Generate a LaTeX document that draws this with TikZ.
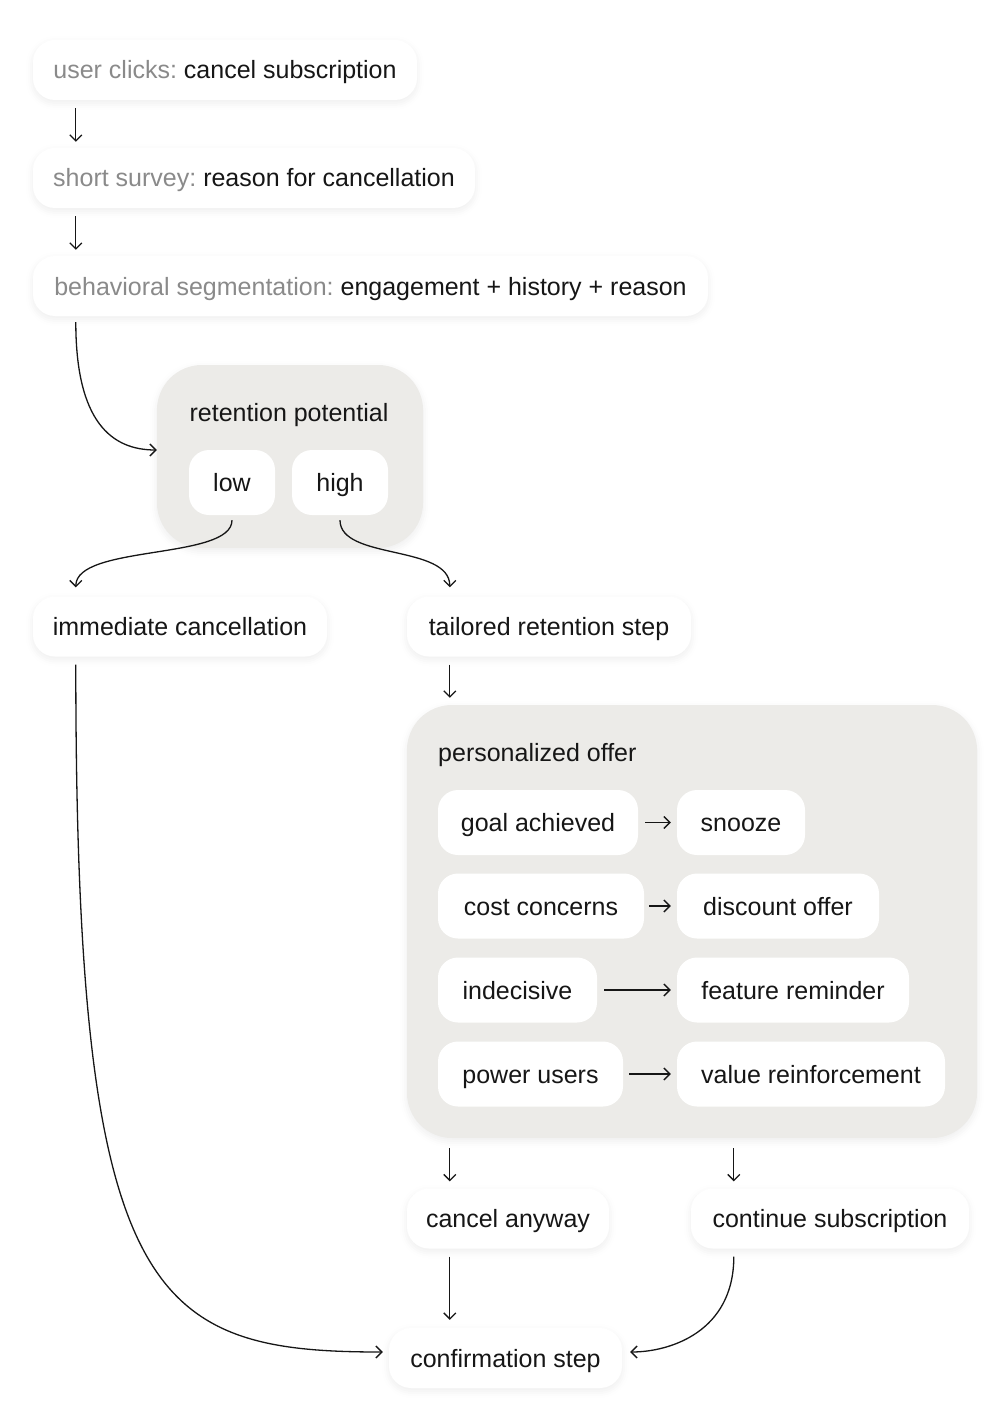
\documentclass[tikz,border=0pt]{standalone}
\usepackage{fontspec}
\setmainfont{Liberation Sans}
\usepackage{xcolor}
\usepackage{tikz}
\usetikzlibrary{arrows.meta, positioning, shadows.blur}

\definecolor{groupgray}{HTML}{ECEBE8}
\definecolor{labelgray}{HTML}{8A8A8A}
\definecolor{inkdark}{HTML}{161616}

\newcommand{\lbl}[1]{\textcolor{labelgray}{#1}}
\frenchspacing

\begin{document}
\begin{tikzpicture}[
    x=1pt, y=-1pt,
    card/.style={rounded corners=22pt, fill=white, minimum height=60pt,
                 inner xsep=0pt, text=inkdark,
                 font=\fontsize{25}{29}\selectfont,
                 text height=21pt, text depth=3pt,
                 blur shadow={shadow xshift=0pt, shadow yshift=-3pt,
                              shadow blur radius=7pt, shadow opacity=7}},
    chip/.style={rounded corners=20pt, fill=white, minimum height=65pt,
                 inner xsep=0pt, text=inkdark,
                 font=\fontsize{25}{29}\selectfont,
                 text height=21pt, text depth=3pt},
    group/.style={rounded corners=45pt, fill=groupgray, inner sep=0pt,
                  blur shadow={shadow xshift=0pt, shadow yshift=-3pt,
                               shadow blur radius=7pt, shadow opacity=7}},
    title/.style={text=inkdark, font=\fontsize{25}{29}\selectfont, inner sep=0pt},
    arrow/.style={-{Straight Barb[length=6pt, width=12pt]}, line width=1.3pt,
                  draw=inkdark}
]
\useasboundingbox (0,0) rectangle (1002,1420);

% Nodes
\node[card, minimum width=384pt] (clicks) at (225,70) {\lbl{user clicks:} cancel subscription};
\node[card, minimum width=442pt] (survey) at (254,178) {\lbl{short survey:} reason for cancellation};
\node[card, minimum width=675pt] (segment) at (370.5,286) {\lbl{behavioral segmentation:} engagement + history + reason};

\node[group, minimum width=266pt, minimum height=183pt] (potential) at (290,456.5) {};
\node[title] (potentialtitle) at (289,415) {retention potential};
\node[chip, minimum width=86pt] (low) at (232,482.5) {low};
\node[chip, minimum width=96pt] (high) at (340,482.5) {high};

\node[card, minimum width=294pt] (immediate) at (180,626.5) {immediate cancellation};
\node[card, minimum width=284pt] (tailored) at (549,626.5) {tailored retention step};

\node[group, minimum width=570pt, minimum height=433pt] (offer) at (692,921.5) {};
\node[title, anchor=west] (offertitle) at (438,755) {personalized offer};
\node[chip, minimum width=200pt] (goal) at (538,822.5) {goal achieved};
\node[chip, minimum width=128pt] (snooze) at (741,822.5) {snooze};
\node[chip, minimum width=206pt] (cost) at (541,906) {cost concerns};
\node[chip, minimum width=202pt] (discount) at (778,906) {discount offer};
\node[chip, minimum width=159pt] (indecisive) at (517.5,990) {indecisive};
\node[chip, minimum width=232pt] (reminder) at (793,990) {feature reminder};
\node[chip, minimum width=185pt] (power) at (530.5,1074) {power users};
\node[chip, minimum width=268pt] (reinforce) at (811,1074) {value reinforcement};

\node[card, minimum width=202pt] (anyway) at (508,1218.5) {cancel anyway};
\node[card, minimum width=278pt] (continue) at (830,1218.5) {continue subscription};
\node[card, minimum width=233pt] (confirm) at (505.5,1358) {confirmation step};

% Arrows
\draw[arrow] ([xshift=43pt, yshift=-8pt]clicks.south west) -- ([xshift=43pt, yshift=6pt]survey.north west);
\draw[arrow] ([xshift=43pt, yshift=-8pt]survey.south west) -- ([xshift=43pt, yshift=6pt]segment.north west);
\draw[arrow] ([xshift=43pt, yshift=-6pt]segment.south west) .. controls +(0,100) and +(-45,0) .. ([yshift=6.5pt]potential.west);

\draw[arrow] ([yshift=-5pt]low.south) .. controls +(0,40) and +(0,-43) .. ([xshift=43pt, yshift=9pt]immediate.north west);
\draw[arrow] ([yshift=-5pt]high.south) .. controls +(0,40) and +(0,-43) .. ([xshift=43pt, yshift=9pt]tailored.north west);
\draw[arrow] ([xshift=43pt, yshift=-8pt]tailored.south west) -- ([xshift=43pt, yshift=7pt]offer.north west);

\draw[arrow] ([xshift=7pt]goal.east) -- ([xshift=-6pt]snooze.west);
\draw[arrow] ([xshift=5pt]cost.east) -- ([xshift=-6pt]discount.west);
\draw[arrow] ([xshift=7pt]indecisive.east) -- ([xshift=-6pt]reminder.west);
\draw[arrow] ([xshift=6pt]power.east) -- ([xshift=-6pt]reinforce.west);

\draw[arrow] ([xshift=43pt, yshift=-10pt]offer.south west) -- ([xshift=43pt, yshift=7pt]anyway.north west);
\draw[arrow] ([xshift=327pt, yshift=-10pt]offer.south west) -- ([xshift=43pt, yshift=7pt]continue.north west);
\draw[arrow] ([xshift=43pt, yshift=-8pt]anyway.south west) -- ([xshift=61pt, yshift=8pt]confirm.north west);

\draw[arrow] ([xshift=43pt, yshift=-8pt]immediate.south west) .. controls +(0,636) and +(-233,0) .. ([xshift=-6pt, yshift=6pt]confirm.west);
\draw[arrow] ([xshift=43pt, yshift=-8pt]continue.south west) .. controls +(0,75) and +(40,0) .. ([xshift=8pt, yshift=6pt]confirm.east);

\end{tikzpicture}
\end{document}
